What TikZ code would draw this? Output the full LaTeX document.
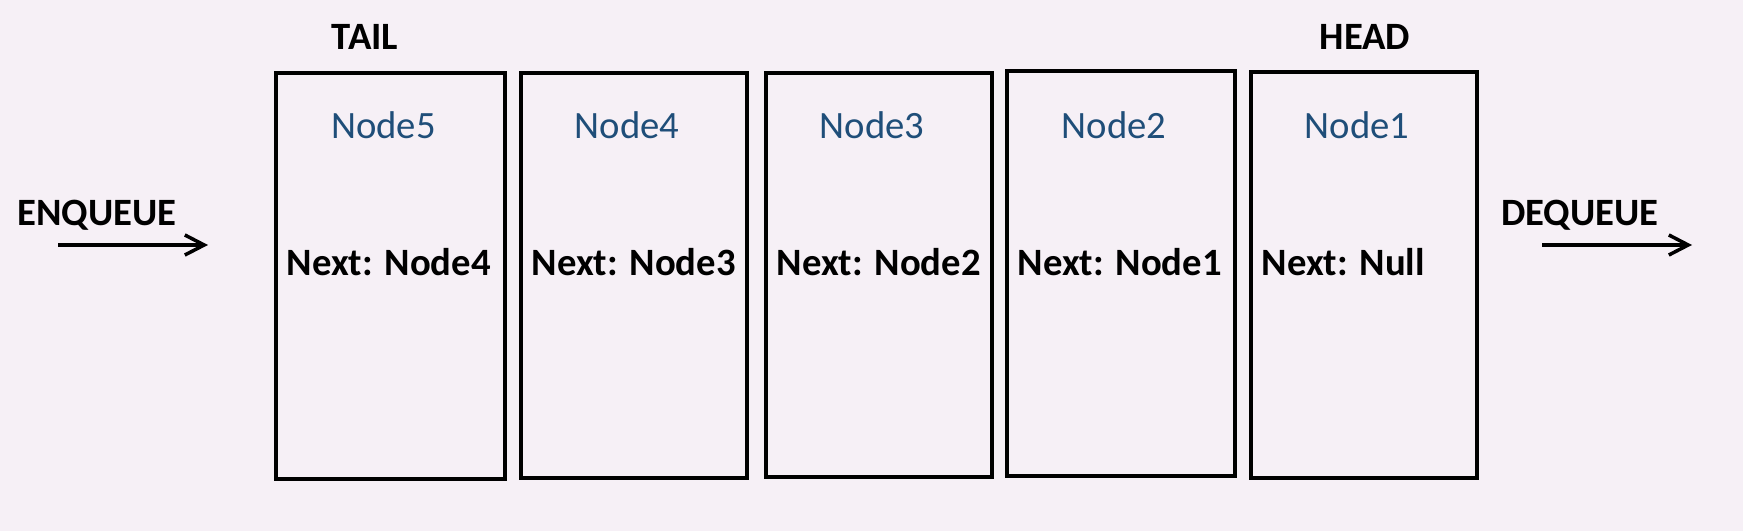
\documentclass[tikz,border=0pt]{standalone}
\usepackage{fontspec}
\setmainfont{Carlito}
\usepackage{xcolor}
\usetikzlibrary{arrows.meta,calc}
\definecolor{bgpink}{RGB}{246,240,246}
\definecolor{nameblue}{RGB}{31,78,121}

\begin{document}
\begin{tikzpicture}[x=0.01cm,y=-0.01cm]
  \tikzset{qbox/.style = {draw, line width=0.9pt, inner sep=0pt, outer sep=0pt}}
  \tikzset{optext/.style = {font=\fontsize{11}{13}\selectfont\bfseries}}
  \tikzset{nametext/.style = {font=\fontsize{11}{13}\selectfont, text=nameblue}}
  \tikzset{qarrow/.style = {line width=1pt, -{Straight Barb[length=5.5pt,width=5.7pt]}}}

  \fill[bgpink] (0,0) rectangle (1743,531);
  \useasboundingbox (0,0) rectangle (1743,531);

  % queue elements
  \foreach \n/\l/\r/\t/\b/\nx in {5/276/505/73/479/Node4, 4/521/747/73/478/Node3, 3/766/992/73/477/Node2, 2/1007/1235/71/476/Node1, 1/1251/1477/72/478/Null}
  {
    \node[qbox, minimum width={(\r-\l)*0.01cm}, minimum height={(\b-\t)*0.01cm}] (b\n) at ({(\l+\r)/2},{(\t+\b)/2}) {};
    \node[nametext] (n\n) at ({(\l+\r)/2-7},125) {Node\n};
    \node[optext, anchor=west, inner sep=0pt] (x\n) at ({\l+10},262) {Next: \nx};
  }

  % ends of the queue
  \node[optext] (tail) at (365,37) {TAIL};
  \node[optext] (head) at (1365,37) {HEAD};
  \node[optext] (enq) at (97,215) {ENQUEUE};
  \node[optext] (deq) at (1580,215) {DEQUEUE};
  \coordinate (enqs) at (58,245);
  \coordinate (enqe) at (208,245);
  \coordinate (deqs) at (1542,245);
  \coordinate (deqe) at (1692,245);
  \draw[qarrow] (enqs) -- (enqe);
  \draw[qarrow] (deqs) -- (deqe);
\end{tikzpicture}
\end{document}
